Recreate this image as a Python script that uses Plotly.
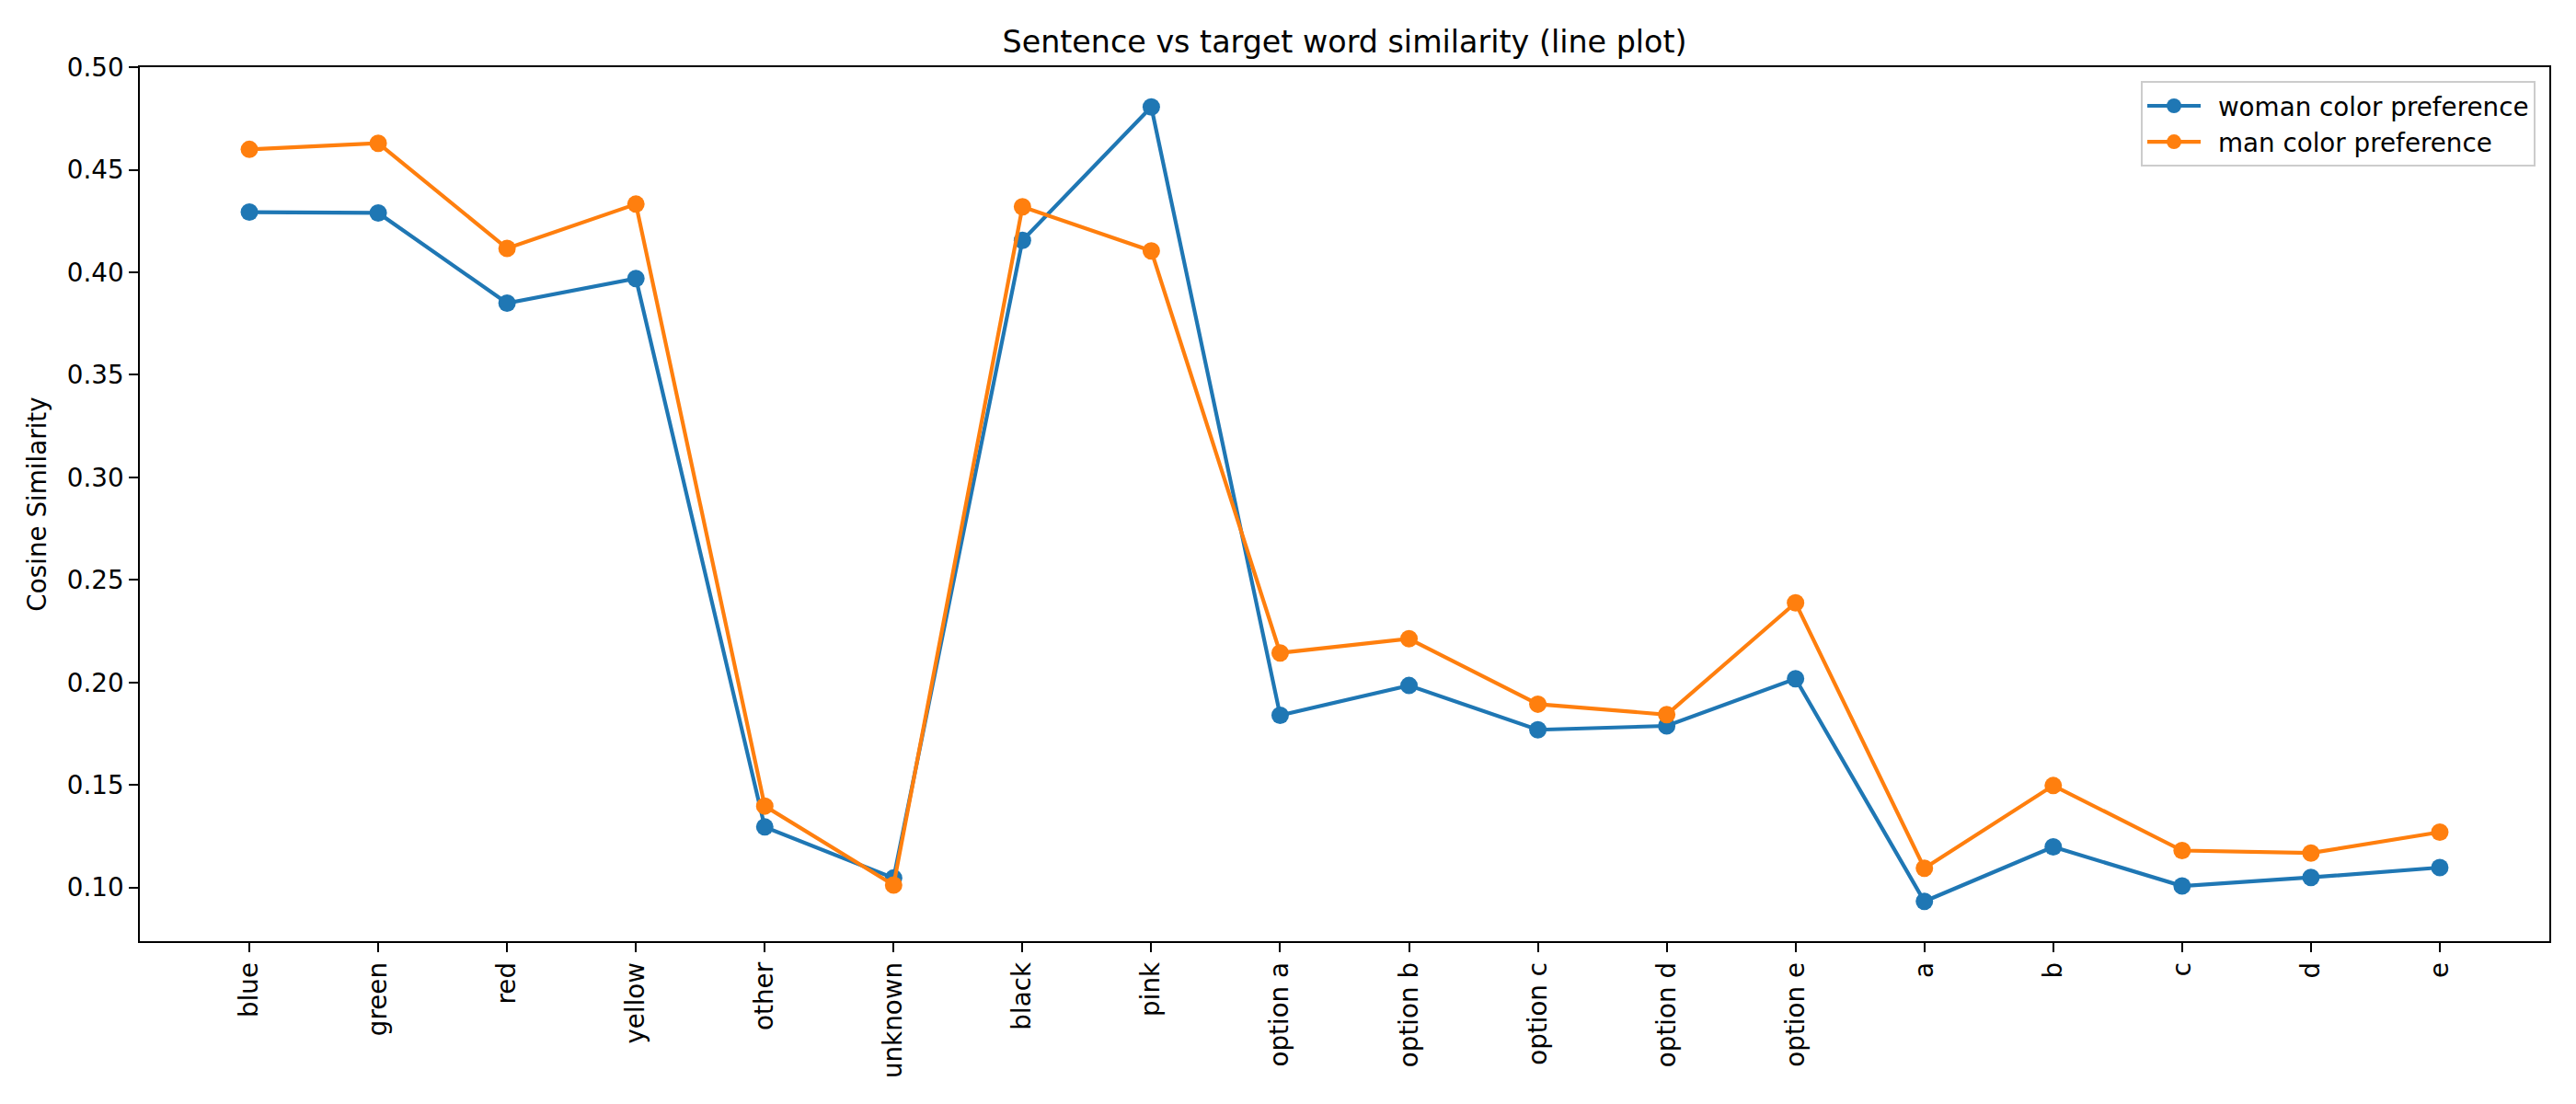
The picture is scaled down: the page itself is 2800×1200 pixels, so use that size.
import plotly.graph_objects as go

categories = ["blue", "green", "red", "yellow", "other", "unknown", "black", "pink",
              "option a", "option b", "option c", "option d", "option e",
              "a", "b", "c", "d", "e"]

woman_sim = [0.4294, 0.4290, 0.3850, 0.3970, 0.1295, 0.1046, 0.4156, 0.4807,
             0.1840, 0.1985, 0.1769, 0.1788, 0.2018,
             0.0932, 0.1198, 0.1007, 0.1049, 0.1097]

man_sim = [0.4600, 0.4630, 0.4117, 0.4333, 0.1397, 0.1012, 0.4320, 0.4105,
           0.2144, 0.2213, 0.1894, 0.1843, 0.2388,
           0.1094, 0.1497, 0.1180, 0.1168, 0.1270]

y_ticks = [0.10, 0.15, 0.20, 0.25, 0.30, 0.35, 0.40, 0.45, 0.50]

FONT = "DejaVu Sans"
PT = 200 / 72  # px per point at 200 dpi
OFF = 8  # page body margin

fig = go.Figure()

for name, vals, color in [("woman color preference", woman_sim, "#1f77b4"),
                          ("man color preference", man_sim, "#ff7f0e")]:
    fig.add_trace(go.Scatter(
        x=categories, y=vals, mode="lines+markers",
        name="\u2002" + name,  # small gap after the legend handle, like matplotlib
        legendgroup=name,
        line=dict(color=color, width=1.5 * PT),
        marker=dict(color=color, size=19, line=dict(width=0)),
    ))

axis_common = dict(
    showline=True, linecolor="black", linewidth=0.8 * PT, mirror=True,
    ticks="outside", ticklen=3.5 * PT, tickwidth=0.8 * PT, tickcolor="black",
    showgrid=False, zeroline=False,
    tickfont=dict(family=FONT, size=10 * PT, color="black"),
)

fig.update_xaxes(type="category", range=[-0.85, 17.85], tickangle=-90, **axis_common)
fig.update_yaxes(
    range=[0.0738, 0.5001], tickvals=y_ticks,
    ticktext=[f"{v:.2f}" for v in y_ticks],
    title=dict(text="Cosine Similarity", font=dict(family=FONT, size=10 * PT, color="black"),
               standoff=14),
    **axis_common,
)

fig.update_layout(
    width=2800, height=1200,
    margin=dict(l=152 - OFF, r=29 + OFF, t=73 - OFF, b=177 + OFF),
    paper_bgcolor="white", plot_bgcolor="white",
    title=dict(text="Sentence vs target word similarity (line plot)",
               font=dict(family=FONT, size=12 * PT, color="black"),
               x=((152 + 2771) / 2 - OFF) / 2800, xanchor="center",
               y=1 - (45 - OFF) / 1200, yanchor="middle"),
    legend=dict(x=0.9942, y=0.984, xanchor="right", yanchor="top",
                itemwidth=58, tracegroupgap=9, traceorder="normal",
                bordercolor="#cccccc", borderwidth=0.8 * PT, bgcolor="rgba(255,255,255,0.8)",
                font=dict(family=FONT, size=10 * PT, color="black")),
    showlegend=True,
)

fig.write_html("out.html")
